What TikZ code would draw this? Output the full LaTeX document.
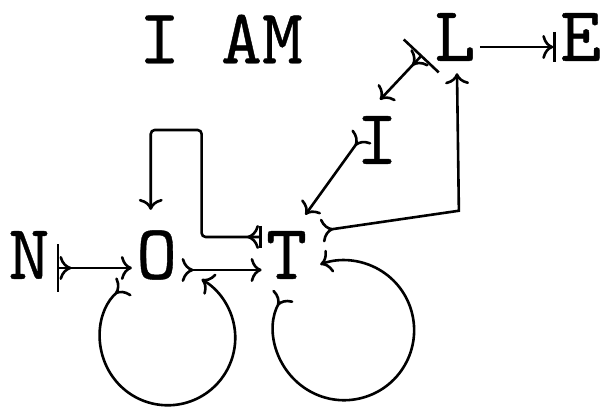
\documentclass[tikz,border=0pt]{standalone}
\usepackage{fontspec}
\newfontfamily\typefont{lmmono10-regular.otf}[FakeBold=0.5]
\usepackage{tikz}
\usetikzlibrary{arrows.meta, positioning}
\tikzstyle{letter} = [font=\typefont\fontsize{39}{39}\selectfont, inner sep=2pt]
\tikzstyle{link} = [line width=1.3pt, {To[reversed,length=6pt,width=12pt]}-{To[length=5.5pt,width=12pt]}]
\tikzstyle{barlink} = [line width=1.3pt, {Bar[width=24pt]To[reversed,length=6pt,width=12pt]}-{To[length=5.5pt,width=12pt]}]
\tikzstyle{shortbarlink} = [line width=1.3pt, {Bar[width=11pt]To[reversed,length=6pt,width=12pt]}-{To[length=5.5pt,width=12pt]}]
\tikzstyle{endbar} = [line width=1.3pt, -{To[length=5.5pt,width=12pt]Bar[width=15pt]}]

\begin{document}
\begin{tikzpicture}[x=0.5pt, y=0.5pt]
    \useasboundingbox (0,0) rectangle (605,410);
    % Define letters
    \node (title) [letter] at (221,371) {I AM};
    \node (N) [letter] at (29,155) {N};
    \node (O) [letter, right=39pt of N] {O};
    \node (T) [letter, right=40pt of O] {T};
    \node (I) [letter] at (377,270) {I};
    \node (L) [letter] at (455,373) {L};
    \node (E) [letter, right=38pt of L] {E};

    % Draw arrows
    \draw [barlink] ([xshift=1.5pt,yshift=-6.5pt]N.east) -- ([yshift=-6.5pt]O.west);
    \draw [link] ([yshift=-7.5pt]O.east) -- ([yshift=-7.5pt]T.west);
    \draw [link] ([xshift=-3.75pt,yshift=-1pt]O.south west) arc[start angle=130, delta angle=290, radius=33.75pt];
    \draw [link] ([xshift=-1.5pt,yshift=-6pt]T.south) arc[start angle=150, delta angle=320, radius=35pt];
    \draw [shortbarlink, rounded corners=2pt] ([yshift=9pt]T.west) -| ++(-60,107) -| ([xshift=-3pt,yshift=8pt]O.north);
    \draw [link] ([xshift=5pt,yshift=-2pt]T.north east) -- ++(137.5,20) -- ([xshift=1pt,yshift=-4pt]L.south);
    \draw [barlink] ([xshift=-4pt,yshift=-9pt]L.west) -- ([xshift=1.5pt,yshift=6pt]I.north);
    \draw [link] ([xshift=5pt,yshift=2pt]I.west) -- ([xshift=-3pt,yshift=6pt]T.north east);
    \draw [endbar] ([yshift=-5pt]L.east) -- ([yshift=-5pt]E.west);
\end{tikzpicture}
\end{document}
